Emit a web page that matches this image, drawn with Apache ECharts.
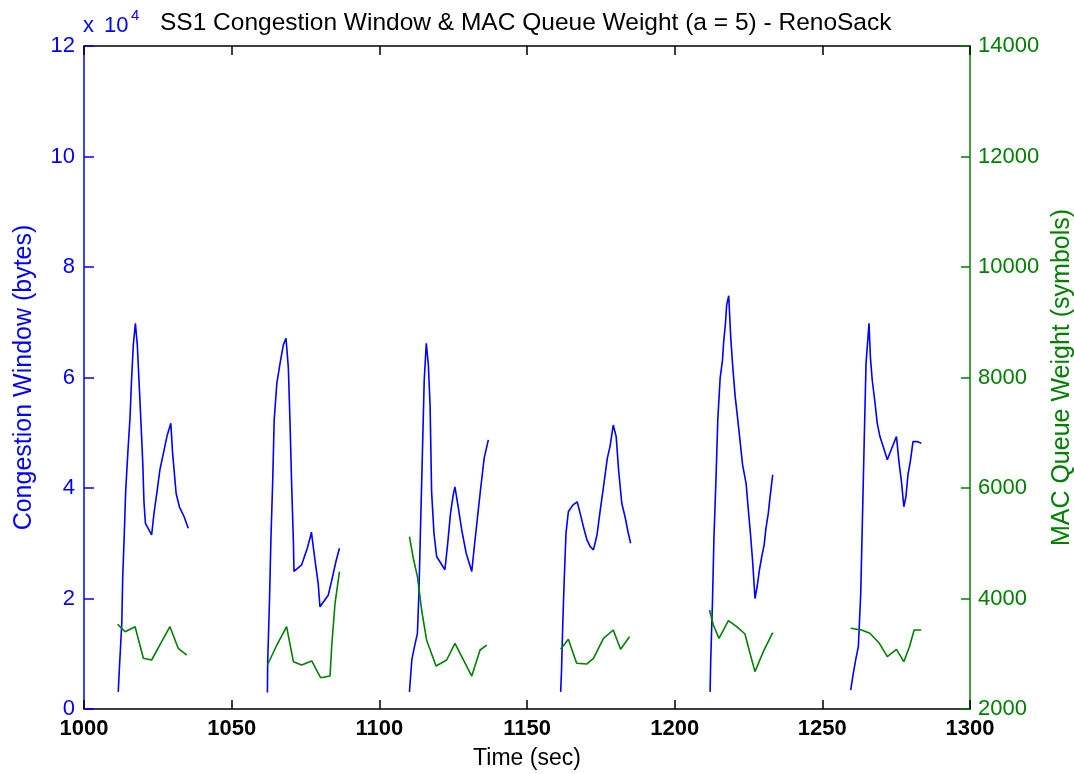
<!DOCTYPE html>
<html>
<head>
<meta charset="utf-8">
<script src="https://cdn.jsdelivr.net/npm/echarts@6/dist/echarts.min.js"></script>
<style>html,body{margin:0;padding:0;background:#fff;}#chart{width:1074px;height:774px;}</style>
</head>
<body>
<div id="chart"></div>
<script>
// Congestion window (units of 1e4 bytes); null separates the six bursts
var cwndTime = [
  1011.6,1011.95,1012.8,1013.1,1013.65,1014.1,1014.8,1015.6,1016.1,1016.7,1017.4,1018.05,1018.7,1019.3,1019.9,1020.3,1020.8,1022.9,1023.7,1024.8,1025.7,1026.9,1028.2,1029.4,1030.0,1031.2,1032.3,1033.9,1035.3,
  null,
  1062.1,1062.2,1062.8,1063.3,1063.9,1064.4,1065.3,1066.4,1067.5,1068.4,1069.2,1069.8,1070.3,1070.9,1071.1,1073.7,1075.6,1076.8,1077.0,1078.2,1079.3,1079.9,1082.7,1083.9,1085.3,1086.5,
  null,
  1110.2,1111.0,1111.9,1112.9,1113.4,1114.0,1114.6,1115.2,1115.9,1116.6,1117.2,1117.7,1118.5,1119.4,1122.2,1123.1,1124.1,1125.0,1125.6,1126.7,1127.9,1129.4,1131.3,1132.1,1133.2,1134.3,1135.5,1136.9,
  null,
  1161.4,1161.7,1162.1,1162.6,1163.2,1164.0,1165.5,1167.0,1168.0,1169.1,1170.3,1171.4,1172.5,1173.7,1174.8,1175.9,1177.2,1178.1,1179.2,1180.2,1181.0,1182.1,1183.2,1184.3,1185.1,
  null,
  1212.0,1212.2,1212.8,1213.3,1214.0,1214.6,1215.4,1216.2,1216.6,1217.2,1217.6,1218.3,1219.0,1219.7,1220.5,1221.2,1222.1,1223.0,1224.2,1224.9,1225.7,1226.4,1227.2,1228.0,1228.7,1229.5,1230.3,1230.9,1231.7,1232.3,1233.2,
  null,
  1259.6,1260.5,1261.4,1262.2,1263.0,1263.6,1264.2,1264.8,1265.4,1265.8,1266.3,1266.9,1267.8,1268.6,1269.5,1270.6,1272.0,1273.5,1275.1,1276.0,1276.8,1277.6,1278.3,1279.0,1279.8,1280.7,1282.1,1283.5
];
var cwndValue = [
  0.31,0.70,1.55,2.37,3.18,3.93,4.60,5.29,5.95,6.59,6.98,6.59,5.86,5.17,4.45,3.75,3.36,3.15,3.54,3.96,4.33,4.63,4.96,5.17,4.63,3.90,3.66,3.48,3.27,
  null,
  0.30,0.86,1.94,3.09,4.14,5.23,5.90,6.26,6.59,6.71,6.17,5.11,4.08,3.03,2.49,2.61,2.91,3.15,3.20,2.70,2.27,1.85,2.06,2.33,2.67,2.91,
  null,
  0.31,0.89,1.13,1.37,2.09,3.39,4.66,5.95,6.62,6.23,5.47,3.93,3.18,2.76,2.52,2.97,3.54,3.87,4.02,3.66,3.24,2.82,2.49,2.91,3.45,3.99,4.54,4.87,
  null,
  0.31,0.71,1.52,2.33,3.18,3.57,3.69,3.75,3.54,3.30,3.06,2.94,2.88,3.15,3.60,4.02,4.54,4.75,5.14,4.93,4.33,3.72,3.48,3.18,3.00,
  null,
  0.31,0.86,1.94,3.09,4.18,5.23,5.99,6.32,6.65,6.98,7.31,7.48,6.71,6.17,5.65,5.32,4.87,4.42,4.08,3.63,3.15,2.67,2.00,2.24,2.52,2.76,2.97,3.27,3.54,3.84,4.24,
  null,
  0.34,0.65,0.92,1.13,2.09,3.48,4.90,6.26,6.68,6.98,6.35,5.95,5.56,5.17,4.93,4.75,4.51,4.72,4.93,4.45,4.11,3.66,3.84,4.24,4.48,4.84,4.84,4.81
];
// MAC queue weight (symbols); null separates bursts
var queueTime = [
  1011.4,1013.9,1017.3,1020.1,1022.9,1026.3,1029.1,1031.9,1034.8,
  null,
  1062.1,1065.3,1068.6,1070.9,1073.7,1077.1,1080.1,1083.3,1083.9,1085.0,1086.5,
  null,
  1110.2,1111.5,1112.9,1114.4,1116.0,1119.2,1122.8,1125.6,1131.3,1134.1,1136.4,
  null,
  1161.4,1164.0,1166.8,1170.2,1172.5,1175.9,1179.2,1181.7,1184.7,
  null,
  1211.8,1213.1,1215.0,1218.2,1221.0,1223.8,1225.5,1227.2,1230.0,1233.2,
  null,
  1259.6,1263.3,1266.1,1269.3,1272.0,1275.1,1277.6,1279.5,1281.1,1283.5
];
var queueValue = [
  3533,3399,3490,2918,2887,3218,3490,3099,2977,
  null,
  2796,3158,3490,2856,2796,2869,2567,2597,3158,3913,4485,
  null,
  5119,4728,4395,3761,3249,2778,2887,3189,2597,3068,3158,
  null,
  3080,3261,2827,2814,2918,3279,3430,3080,3309,
  null,
  3792,3520,3279,3598,3490,3357,3008,2676,3037,3381,
  null,
  3461,3430,3370,3189,2947,3080,2856,3128,3430,3430
];
var xTicks = [1000, 1300, 50];
var leftTicks = [0, 12, 2];
var rightTicks = [2000, 14000, 2000];

function splitSegments(ts, vs) {
  var segs = [], cur = [];
  for (var i = 0; i < ts.length; i++) {
    if (ts[i] === null) { if (cur.length) segs.push(cur); cur = []; }
    else cur.push([ts[i], vs[i]]);
  }
  if (cur.length) segs.push(cur);
  return segs;
}

var BLUE = '#0000ff', GREEN = '#008000';
var series = [];
splitSegments(cwndTime, cwndValue).forEach(function (s) {
  series.push({ type: 'line', xAxisIndex: 0, yAxisIndex: 0, data: s, showSymbol: false, symbol: 'none',
    lineStyle: { color: BLUE, width: 1.6 }, silent: true, animation: false });
});
splitSegments(queueTime, queueValue).forEach(function (s) {
  series.push({ type: 'line', xAxisIndex: 0, yAxisIndex: 1, data: s, showSymbol: false, symbol: 'none',
    lineStyle: { color: GREEN, width: 1.6 }, silent: true, animation: false });
});

var FONT = 'Liberation Sans, Arial, sans-serif';
function plain(v) { return String(v); }
var chart = echarts.init(document.getElementById('chart'));
chart.setOption({
  backgroundColor: '#ffffff',
  animation: false,
  title: {
    text: 'SS1 Congestion Window & MAC Queue Weight (a = 5) - RenoSack',
    left: 155, top: 6,
    textStyle: { fontFamily: FONT, fontSize: 24.5, fontWeight: 'normal', color: '#000' }
  },
  graphic: [
    { type: 'text', left: 83, top: 15, style: { text: 'x', fontFamily: FONT, fontSize: 22, fill: BLUE } },
    { type: 'text', left: 104, top: 15, style: { text: '10', fontFamily: FONT, fontSize: 22, fill: BLUE } },
    { type: 'text', left: 131, top: 8, style: { text: '4', fontFamily: FONT, fontSize: 15, fill: BLUE } }
  ],
  grid: { left: 84, right: 104, top: 46, bottom: 65, containLabel: false, outerBoundsMode: 'none' },
  xAxis: [{
    type: 'value', position: 'bottom', min: xTicks[0], max: xTicks[1], interval: xTicks[2],
    name: 'Time (sec)', nameLocation: 'middle', nameGap: 38,
    nameTextStyle: { fontFamily: FONT, fontSize: 23, color: '#000' },
    axisLine: { show: true, onZero: false, lineStyle: { color: '#000', width: 1.5 } },
    axisTick: { show: true, inside: true, length: 9, lineStyle: { color: '#000', width: 1.5 } },
    axisLabel: { fontFamily: FONT, fontSize: 22, fontWeight: 'bold', color: '#000', margin: 9, formatter: plain },
    splitLine: { show: false }
  }, {
    type: 'value', position: 'top', min: xTicks[0], max: xTicks[1], interval: xTicks[2],
    axisLine: { show: true, onZero: false, lineStyle: { color: '#000', width: 1.5 } },
    axisTick: { show: true, inside: true, length: 9, lineStyle: { color: '#000', width: 1.5 } },
    axisLabel: { show: false },
    splitLine: { show: false }
  }],
  yAxis: [{
    type: 'value', position: 'left', min: leftTicks[0], max: leftTicks[1], interval: leftTicks[2],
    name: 'Congestion Window (bytes)', nameLocation: 'middle', nameGap: 47, nameRotate: 90,
    nameTextStyle: { fontFamily: FONT, fontSize: 25, color: BLUE },
    axisLine: { show: true, onZero: false, lineStyle: { color: BLUE, width: 1.5 } },
    axisTick: { show: true, inside: true, length: 10, lineStyle: { color: BLUE, width: 1.5 } },
    axisLabel: { fontFamily: FONT, fontSize: 22, color: BLUE, margin: 9, formatter: plain },
    splitLine: { show: false }
  }, {
    type: 'value', position: 'right', min: rightTicks[0], max: rightTicks[1], interval: rightTicks[2],
    name: 'MAC Queue Weight (symbols)', nameLocation: 'middle', nameGap: 67, nameRotate: 90,
    nameTextStyle: { fontFamily: FONT, fontSize: 25, color: GREEN, verticalAlign: 'top' },
    axisLine: { show: true, onZero: false, lineStyle: { color: GREEN, width: 1.5 } },
    axisTick: { show: true, inside: true, length: 9, lineStyle: { color: GREEN, width: 1.5 } },
    axisLabel: { fontFamily: FONT, fontSize: 22, color: GREEN, margin: 8, formatter: plain },
    splitLine: { show: false }
  }],
  series: series
});
</script>
</body>
</html>
